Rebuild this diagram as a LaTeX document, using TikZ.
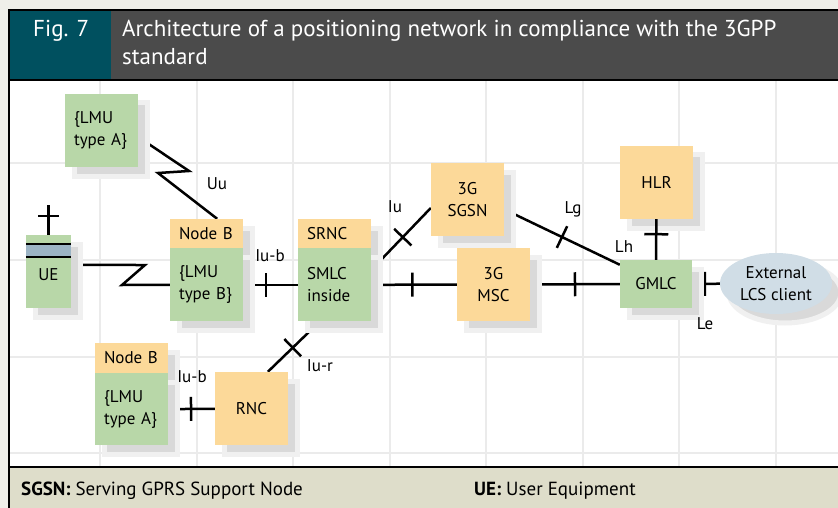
\documentclass[tikz,border=0pt]{standalone}
\usepackage{fontspec}
\setmainfont{PT Sans}
\usetikzlibrary{positioning}
\usetikzlibrary{shapes.geometric}
\usetikzlibrary{shadows}

\definecolor{figteal}{HTML}{00505F}
\definecolor{figgrey}{HTML}{4B4B4B}
\definecolor{paper}{HTML}{EFEFE9}
\definecolor{footbg}{HTML}{DEDDCA}
\definecolor{gridgrey}{HTML}{EBEBEB}
\definecolor{lmugreen}{HTML}{B8D7A8}
\definecolor{netorange}{HTML}{FCD999}
\definecolor{uebar}{HTML}{9CB4C5}
\definecolor{clientblue}{HTML}{D0DDE6}

\newcommand{\netfont}{\fontsize{17}{22}\selectfont}
\newcommand{\lblfont}{\fontsize{17}{20}\selectfont}
\newcommand{\headfont}{\fontsize{23}{28}\selectfont}
\newcommand{\footfont}{\fontsize{19}{22}\selectfont}

\pgfdeclarelayer{backdrop}
\pgfdeclarelayer{wires}
\pgfsetlayers{backdrop,wires,main}

\tikzset{
	boxshadow/.style={general shadow={fill=black!15, draw=black!6, line width=5, shadow xshift=9pt, shadow yshift=-9pt}},
	grnbox/.style={boxshadow, fill=lmugreen, font=\netfont, inner xsep=9, inner ysep=0, text width=55, align=left, minimum height=73},
	orabox/.style={boxshadow, fill=netorange, font=\netfont, inner sep=0, minimum width=73, minimum height=73, align=center},
	headbox/.style={boxshadow, fill=netorange, font=\netfont, inner xsep=9, inner ysep=0, text width=55, align=left, minimum height=29},
	wire/.style={line width=2.5},
	bar/.style={sloped, fill=black, inner sep=0, minimum width=2.5, minimum height=24},
	iflabel/.style={font=\lblfont, inner sep=0}
}

\begin{document}
\begin{tikzpicture}[x=1pt,y=-1pt]
	\useasboundingbox (0,0) rectangle (838,508);

	%% Frame %%
	\begin{pgfonlayer}{backdrop}
	\fill[paper] (0,0) rectangle (838,508);
	\fill[white] (9,80) rectangle (838,467);
	\foreach \gx in {0,...,7} \draw[gridgrey, line width=2] ({100+96.5*\gx},81) -- ++(0,386);
	\foreach \gy in {163,260,357,453} \draw[gridgrey, line width=2] (10,\gy) -- (838,\gy);
	\fill[figteal] (9,10) rectangle (111,80);
	\fill[figgrey] (111,10) rectangle (838,80);
	\fill[footbg] (9,467) rectangle (838,508);
	\draw[line width=2.5] (9,80) -- (838,80);
	\draw[line width=1.5] (9,467) -- (838,467);
	\draw[line width=1.5] (838,10) -- (9,10) -- (9,508);
	\end{pgfonlayer}
	\node[font=\headfont, text=white, anchor=base west, inner sep=0] (fignum) at (33,37) {Fig. 7};
	\node[font=\headfont, text=white, anchor=north west, inner sep=0, align=left] (figtitle) at (122,20) {Architecture of a positioning network in compliance with the 3GPP\\standard};

	%% Access Side %%
	\node[grnbox] (lmua) at (101.5,130.5) {\{LMU\\type A\}};
	\node[boxshadow, fill=lmugreen, minimum width=45, minimum height=73, inner sep=0, label={[font=\netfont, yshift=-3pt]center:UE}] (ue) at (48.5,271.5) {};
	\fill[uebar] ([yshift=-9pt]ue.north west) rectangle ([yshift=-22pt]ue.north east);
	\draw[wire] ([yshift=-9pt]ue.north west) -- ([yshift=-9pt]ue.north east);
	\draw[wire] ([yshift=-22pt]ue.north west) -- ([yshift=-22pt]ue.north east);
	\draw[wire] (ue.north) -- ++(0,-30) ++(-10.5,11) -- ++(21,0);
	\node[headbox] (nba) at (206.5,233.5) {Node B};
	\node[grnbox, below=0pt of nba] (nbab) {\{LMU\\type B\}};
	\node[headbox] (srnc) at (334.5,233.5) {SRNC};
	\node[grnbox, below=0pt of srnc] (srncb) {SMLC\\inside};
	\node[headbox, minimum height=30] (nbb) at (131.5,358) {Node B};
	\node[grnbox, minimum height=72, below=0pt of nbb] (nbbb) {\{LMU\\type A\}};
	\node[orabox] (rnc) at (251.5,408.5) {RNC};

	%% Core Side %%
	\node[orabox] (sgsn) at (467.5,199.5) {3G\\SGSN};
	\node[orabox] (msc) at (493.5,284.5) {3G\\MSC};
	\node[orabox] (hlr) at (656.5,182.5) {HLR};
	\node[orabox, fill=lmugreen, minimum width=72, minimum height=48] (gmlc) at (656,284) {GMLC};
	\node[ellipse, boxshadow, fill=clientblue, minimum width=112, minimum height=61, inner sep=0, font=\netfont, align=center] (lcs) at (776,283.5) {External\\LCS client};

	%% Interfaces %%
	\coordinate (uu1) at (189,171);
	\coordinate (uu2) at (158,173);
	\coordinate (ue1) at (145,265);
	\coordinate (ue2) at (122,285);
	\begin{pgfonlayer}{wires}
	\draw[wire] (lmua.-10) -- (uu1) -- (uu2) -- (nba.54);
	\draw[wire] (ue.16) -- (ue1) -- (ue2) -- (nbab.west);
	\draw[wire] (nbab) -- node[bar, pos=.42] (tk1) {} (srncb);
	\draw[wire] (srncb.22) -- node[bar, pos=.53] (tk2) {} (sgsn.193);
	\draw[wire] (srncb) -- node[bar, pos=.48] (tk3) {} (msc);
	\draw[wire] (msc) -- node[bar, pos=.5] (tk4) {} (gmlc);
	\draw[wire] (sgsn.-15) -- node[bar, pos=.5] (tk5) {} (gmlc.152);
	\draw[wire] (gmlc) -- node[bar, pos=.46] (tk7) {} (lcs);
	\draw[wire] (srncb.-112) -- node[bar, pos=.52] (tk8) {} (rnc.66);
	\draw[wire] (nbbb) -- node[bar, pos=.49] (tk9) {} (rnc);
	\end{pgfonlayer}
	\draw[wire] (hlr) -- node[bar, pos=.37] (tk6) {} (gmlc);
	\node[iflabel] (lbluu) at (217,184) {Uu};
	\node[iflabel] (lbliub) at (270,256) {Iu-b};
	\node[iflabel] (lbliu) at (395,207) {Iu};
	\node[iflabel] (lbllg) at (573,209) {Lg};
	\node[iflabel] (lbllh) at (624,247) {Lh};
	\node[iflabel] (lblle) at (705,324) {Le};
	\node[iflabel] (lbliur) at (320,366) {Iu-r};
	\node[iflabel] (lbliubb) at (192,377) {Iu-b};

	%% Key %%
	\node[font=\footfont, anchor=base west, inner sep=0] (keysgsn) at (21,495) {\textbf{SGSN:} Serving GPRS Support Node};
	\node[font=\footfont, anchor=base west, inner sep=0] (keyue) at (474,495) {\textbf{UE:} User Equipment};
\end{tikzpicture}
\end{document}
